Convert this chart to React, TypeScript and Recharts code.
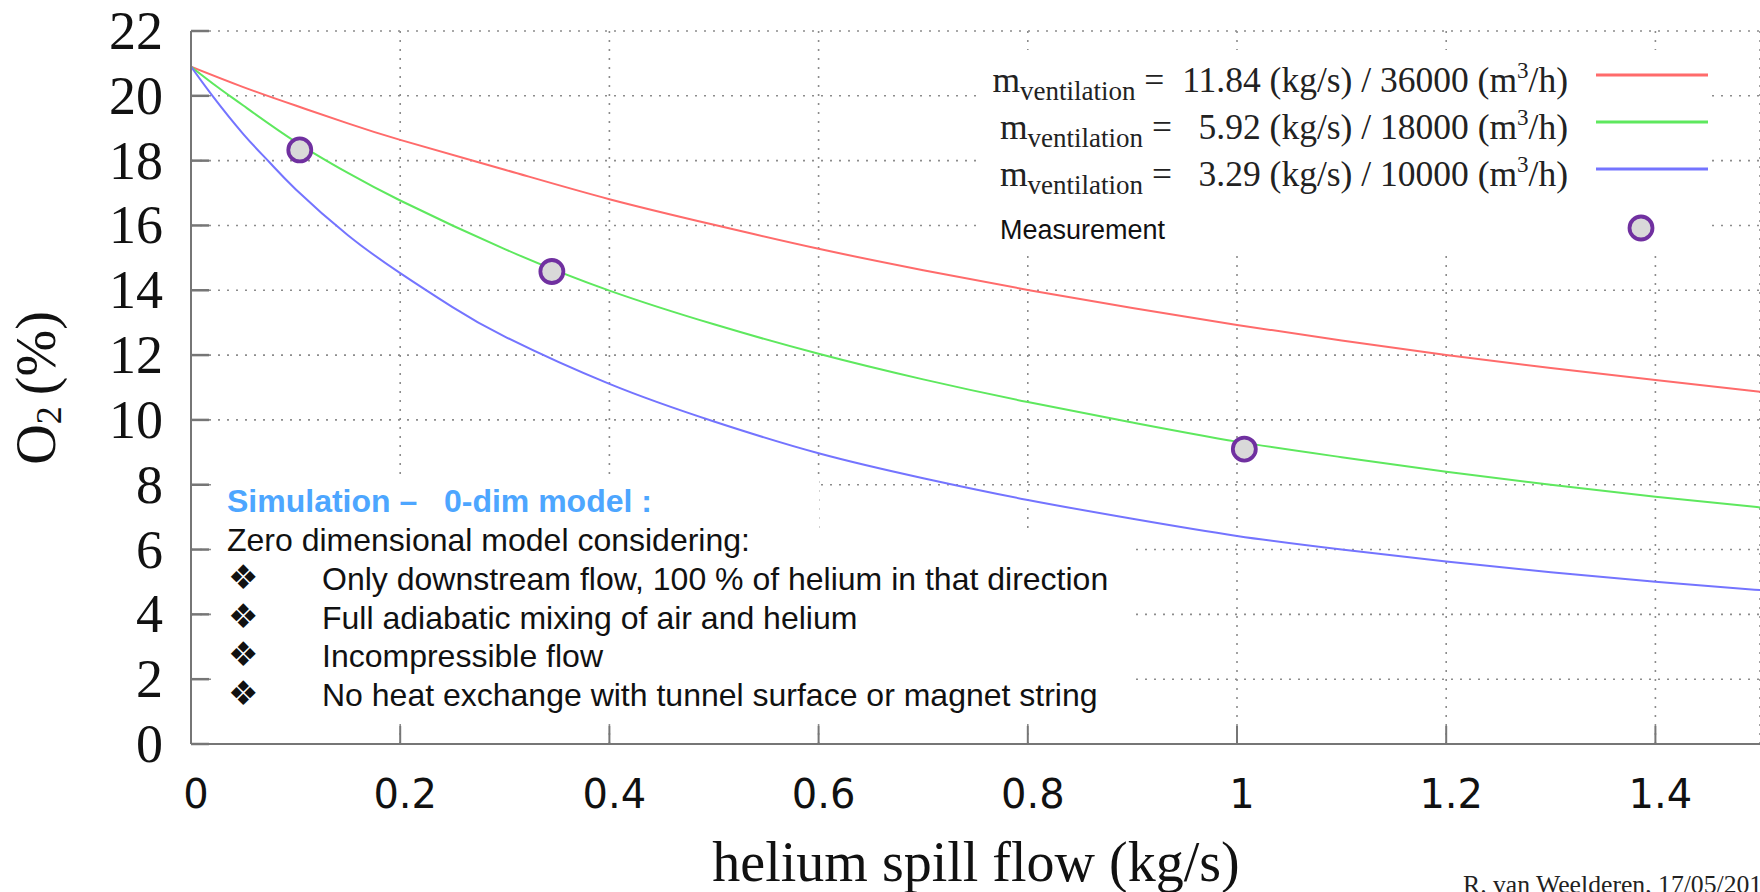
import React from "react";
import { ComposedChart, Line, Scatter, XAxis, YAxis, CartesianGrid } from "recharts";

// ---- data ----
const X_TICKS = [0, 0.2, 0.4, 0.6, 0.8, 1, 1.2, 1.4];
const Y_TICKS = [0, 2, 4, 6, 8, 10, 12, 14, 16, 18, 20, 22];

const FLOW_RED = [0, 0.05, 0.1, 0.15, 0.2, 0.3, 0.4, 0.5, 0.6, 0.7, 0.8, 0.9, 1.0, 1.1, 1.2, 1.3, 1.4, 1.5];
const O2_RED = [20.9, 20.27, 19.7, 19.15, 18.64, 17.72, 16.81, 16.02, 15.28, 14.62, 14.01, 13.45, 12.93, 12.45, 12.0, 11.6, 11.23, 10.87];

const FLOW_GREEN = [0, 0.025, 0.05, 0.1, 0.15, 0.2, 0.3, 0.4, 0.5, 0.6, 0.7, 0.8, 0.9, 1.0, 1.1, 1.2, 1.3, 1.4, 1.5];
const O2_GREEN = [20.9, 20.28, 19.7, 18.58, 17.62, 16.77, 15.27, 13.99, 12.95, 12.04, 11.25, 10.55, 9.92, 9.33, 8.85, 8.4, 8.0, 7.63, 7.3];

const FLOW_BLUE = [0, 0.02, 0.05, 0.075, 0.1, 0.15, 0.2, 0.25, 0.3, 0.4, 0.5, 0.6, 0.7, 0.8, 0.9, 1.0, 1.1, 1.2, 1.3, 1.4, 1.5];
const O2_BLUE = [20.9, 20.02, 18.82, 17.95, 17.12, 15.7, 14.53, 13.48, 12.57, 11.11, 9.95, 8.97, 8.2, 7.53, 6.95, 6.42, 6.0, 5.63, 5.3, 5.01, 4.75];

const MEAS_FLOW = [0.104, 0.345, 1.007];
const MEAS_O2 = [18.33, 14.58, 9.1];

const SERIES_NAMES = [
  { value: "11.84", pad: "\u00A0\u00A0", vol: "36000" },
  { value: "5.92", pad: "\u00A0\u00A0\u00A0", vol: "18000" },
  { value: "3.29", pad: "\u00A0\u00A0\u00A0", vol: "10000" },
];
const NOTE_TITLE = "Simulation \u2013\u00A0\u00A0\u00A00-dim model :";
const NOTE_INTRO = "Zero dimensional model considering:";
const NOTE_BULLETS = [
  "Only downstream flow, 100 % of helium in that direction",
  "Full adiabatic mixing of air and helium",
  "Incompressible flow",
  "No heat exchange with tunnel surface or magnet string",
];

const RED = "#ff6b6b";
const GREEN = "#5ee85e";
const BLUE = "#7474ff";
const COLORS = [RED, GREEN, BLUE];

const toPts = (xs: number[], ys: number[]) => xs.map((x, i) => ({ x, y: ys[i] }));
const redData = toPts(FLOW_RED, O2_RED);
const greenData = toPts(FLOW_GREEN, O2_GREEN);
const blueData = toPts(FLOW_BLUE, O2_BLUE);
const measData = toPts(MEAS_FLOW, MEAS_O2);

const AXIS = "#767676";
const TICK_LEN = 18;
const SERIF = "'Liberation Serif', 'Times New Roman', serif";
const SANS = "'Liberation Sans', Arial, sans-serif";

const BottomTick = (p: any) => (
  <g>
    <line x1={p.x} y1={p.y} x2={p.x} y2={p.y - TICK_LEN} stroke={AXIS} strokeWidth={2} />
    <text x={p.x + 5} y={p.y + 64} textAnchor="middle" fontFamily="'DejaVu Sans', sans-serif" fontSize={40} fill="#111">
      {String(p.payload.value)}
    </text>
  </g>
);
const TopTick = (p: any) => (
  <line x1={p.x} y1={p.y} x2={p.x} y2={p.y + TICK_LEN} stroke={AXIS} strokeWidth={2} />
);
const LeftTick = (p: any) => (
  <g>
    <line x1={p.x} y1={p.y} x2={p.x + TICK_LEN} y2={p.y} stroke={AXIS} strokeWidth={2.5} />
    <text x={p.x - 28} y={p.y + 18} textAnchor="end" fontFamily={SERIF} fontSize={54} fill="#111">
      {String(p.payload.value)}
    </text>
  </g>
);
const RightTick = (p: any) => (
  <line x1={p.x} y1={p.y} x2={p.x - TICK_LEN} y2={p.y} stroke={AXIS} strokeWidth={2.5} />
);

const Marker = (p: any) => (
  <circle cx={p.cx} cy={p.cy} r={11.5} fill="#d9d9d9" stroke="#7030a0" strokeWidth={3.8} />
);

export default function App() {
  const legendBase = [92, 139, 186];
  const noteBase = [551, 590, 628.5, 667, 705.5];
  return (
    <div style={{ position: "relative", width: 1760, height: 892, overflow: "hidden", background: "#fff" }}>
      <style>{`body{margin:0}`}</style>
      <ComposedChart width={1760} height={892} margin={{ top: 31, right: 0, bottom: 0, left: 0 }}>
        <CartesianGrid
          xAxisId="b"
          yAxisId="l"
          stroke="#8c8c8c"
          strokeDasharray="2 7"
          strokeWidth={1.6}
        />
        <XAxis
          xAxisId="b"
          type="number"
          dataKey="x"
          domain={[0, 1.5]}
          ticks={X_TICKS}
          interval={0}
          height={148}
          tickSize={0}
          tickMargin={0}
          tick={BottomTick}
          axisLine={{ stroke: AXIS, strokeWidth: 2 }}
          allowDataOverflow
        />
        <XAxis
          xAxisId="t"
          orientation="top"
          type="number"
          dataKey="x"
          domain={[0, 1.5]}
          ticks={X_TICKS}
          interval={0}
          height={0}
          tickSize={0}
          tickMargin={0}
          tick={TopTick}
          axisLine={{ stroke: AXIS, strokeWidth: 2 }}
          allowDataOverflow
        />
        <YAxis
          yAxisId="l"
          type="number"
          dataKey="y"
          domain={[0, 22]}
          ticks={Y_TICKS}
          interval={0}
          width={191}
          tickSize={0}
          tickMargin={0}
          tick={LeftTick}
          axisLine={{ stroke: AXIS, strokeWidth: 2 }}
        />
        <YAxis
          yAxisId="r"
          orientation="right"
          type="number"
          dataKey="y"
          domain={[0, 22]}
          ticks={Y_TICKS}
          interval={0}
          width={0}
          tickSize={0}
          tickMargin={0}
          tick={RightTick}
          axisLine={{ stroke: AXIS, strokeWidth: 2 }}
        />
        <Line xAxisId="b" yAxisId="l" data={redData} dataKey="y" type="natural" stroke={RED} strokeWidth={2} dot={false} isAnimationActive={false} />
        <Line xAxisId="b" yAxisId="l" data={greenData} dataKey="y" type="natural" stroke={GREEN} strokeWidth={2} dot={false} isAnimationActive={false} />
        <Line xAxisId="b" yAxisId="l" data={blueData} dataKey="y" type="natural" stroke={BLUE} strokeWidth={2} dot={false} isAnimationActive={false} />
        <Scatter xAxisId="b" yAxisId="l" data={measData} dataKey="y" shape={Marker} isAnimationActive={false} />
      </ComposedChart>

      <svg width={1760} height={892} style={{ position: "absolute", left: 0, top: 0, pointerEvents: "none" }}>
        {/* legend box */}
        <rect x={978} y={50} width={734} height={202} fill="#fff" />
        {SERIES_NAMES.map((s, i) => (
          <g key={i}>
            <text x={1568} y={legendBase[i]} textAnchor="end" fontFamily={SERIF} fontSize={35.5} fill="#222">
              m<tspan fontSize={27} dy={8}>ventilation</tspan>
              <tspan dy={-8}>{"\u00A0=" + s.pad + s.value + " (kg/s) / " + s.vol + " (m"}</tspan>
              <tspan fontSize={23} dy={-14}>3</tspan>
              <tspan dy={14}>/h)</tspan>
            </text>
            <line x1={1596} x2={1708} y1={legendBase[i] - 17} y2={legendBase[i] - 17} stroke={COLORS[i]} strokeWidth={3} />
          </g>
        ))}
        <text x={1000} y={239} fontFamily={SANS} fontSize={27} fill="#111">Measurement</text>
        <circle cx={1641} cy={228} r={11.5} fill="#d9d9d9" stroke="#7030a0" strokeWidth={3.8} />

        {/* note boxes */}
        <rect x={211} y={475} width={608} height={58} fill="#fff" />
        <rect x={211} y={533} width={922} height={191} fill="#fff" />
        <text x={227} y={512} fontFamily={SANS} fontSize={32} fontWeight="bold" fill="#4da6ff">{NOTE_TITLE}</text>
        <text x={227} y={noteBase[0]} fontFamily={SANS} fontSize={32} fill="#111">{NOTE_INTRO}</text>
        {NOTE_BULLETS.map((b, i) => (
          <g key={i}>
            <text x={228} y={noteBase[i + 1] - 1} fontFamily="'DejaVu Sans', sans-serif" fontSize={34} fill="#111">{"\u2756"}</text>
            <text x={322} y={noteBase[i + 1]} fontFamily={SANS} fontSize={32} fill="#111">{b}</text>
          </g>
        ))}

        {/* axis titles */}
        <text x={976} y={881} textAnchor="middle" fontFamily={SERIF} fontSize={56} fill="#111">helium spill flow (kg/s)</text>
        <g transform="translate(55,388) rotate(-90)">
          <text x={0} y={0} textAnchor="middle" fontFamily={SERIF} fontSize={56} fill="#111">
            O<tspan fontSize={36} dy={6}>2</tspan><tspan dy={-6}>{"\u2009(%)"}</tspan>
          </text>
        </g>
        <text x={1463} y={893} fontFamily={SERIF} fontSize={25.7} fill="#222">R. van Weelderen, 17/05/2016</text>
      </svg>
    </div>
  );
}
